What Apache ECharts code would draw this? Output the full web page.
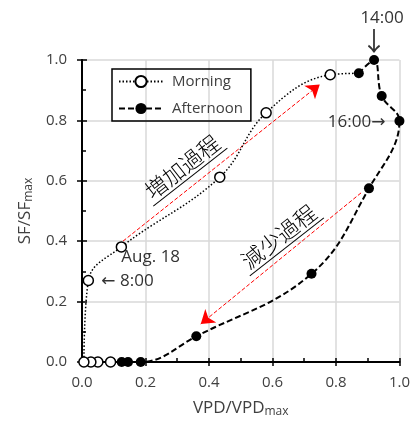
<!DOCTYPE html>
<html><head><meta charset="utf-8">
<script src="https://cdn.jsdelivr.net/npm/echarts@6/dist/echarts.min.js"></script>
<style>html,body{margin:0;padding:0;background:#fff}#c{width:413px;height:425px}</style>
</head><body><div id="c"></div>
<script>
// ---- data ----
const xTickLabels = ['0.0','0.2','0.4','0.6','0.8','1.0'];
const yTickLabels = ['0.0','0.2','0.4','0.6','0.8','1.0'];
const morningX = [0.09, 0.05, 0.028, 0.006, 0.02, 0.124, 0.434, 0.58, 0.782, 0.872];
const morningY = [0, 0, 0, 0, 0.27, 0.381, 0.612, 0.825, 0.951, 0.956];
const afternoonX = [0.872, 0.92, 0.944, 1.0, 0.904, 0.723, 0.36, 0.185, 0.145, 0.125];
const afternoonY = [0.956, 1.0, 0.881, 0.798, 0.575, 0.292, 0.085, 0, 0, 0];
const arrowIncrease = [[0.129, 0.40], [0.749, 0.919]];
const arrowDecrease = [[0.879, 0.56], [0.374, 0.126]];
const seriesNames = ['Morning', 'Afternoon'];
const processLabels = ['増加過程', '減少過程'];
const processCenters = [[0.316, 0.646], [0.62, 0.415]];
const timeLabels = ['14:00', '↓', '16:00→', 'Aug. 18', '← 8:00'];

const FONT = '"Open Sans", "DejaVu Sans", sans-serif';
const TXT = '#404040';
const chart = echarts.init(document.getElementById('c'), null, {renderer: 'canvas'});

const morningData = morningX.map((x, i) => {
  const d = {value: [x, morningY[i]]};
  if (i === morningX.length - 1) d.symbol = 'none';
  return d;
});
const afternoonData = afternoonX.map((x, i) => [x, afternoonY[i]]);

const baseAxis = {type: 'value', min: 0, max: 1, interval: 0.2};
const option = {
  animation: false,
  backgroundColor: '#fff',
  grid: {left: 82, top: 60, width: 320, height: 302, containLabel: false},
  legend: {
    orient: 'vertical', left: 112, top: 69,
    data: seriesNames,
    borderColor: '#000', borderWidth: 1.5, borderRadius: 0,
    padding: [5, 8, 5, 6], itemGap: 12, itemWidth: 44, itemHeight: 14,
    textStyle: {fontFamily: FONT, fontSize: 15, color: TXT, padding: [0, 0, 0, 4]}
  },
  xAxis: [
    Object.assign({}, baseAxis, {
      position: 'bottom',
      axisLine: {show: true, onZero: false, lineStyle: {color: '#000', width: 2}},
      axisTick: {show: true, inside: true, length: 4, lineStyle: {color: '#000', width: 1.5}},
      minorTick: {show: true, splitNumber: 2, length: 4, lineStyle: {color: '#000', width: 1.5}},
      splitLine: {show: true, lineStyle: {color: '#d9d9d9', width: 1.5}},
      axisLabel: {margin: 13, fontFamily: FONT, fontSize: 15, color: TXT,
        formatter: (v) => xTickLabels[Math.round(v / 0.2)]},
      name: '{a|VPD/VPD}{b|max}', nameLocation: 'middle', nameGap: 36,
      nameTextStyle: {fontFamily: FONT, color: TXT, rich: {
        a: {fontFamily: FONT, fontSize: 17, color: TXT, lineHeight: 20},
        b: {fontFamily: FONT, fontSize: 12, color: TXT, lineHeight: 6, verticalAlign: 'bottom'}
      }}
    }),
    Object.assign({}, baseAxis, {
      position: 'bottom',
      axisLine: {show: false},
      axisTick: {show: true, inside: false, length: 4, lineStyle: {color: '#000', width: 1.5}},
      splitLine: {show: false}, axisLabel: {show: false}
    }),
    Object.assign({}, baseAxis, {
      position: 'top',
      axisLine: {show: true, lineStyle: {color: '#000', width: 1.5}},
      axisTick: {show: false}, splitLine: {show: false}, axisLabel: {show: false}
    })
  ],
  yAxis: [
    Object.assign({}, baseAxis, {
      position: 'left',
      axisLine: {show: true, onZero: false, lineStyle: {color: '#000', width: 2}},
      axisTick: {show: true, inside: true, length: 5, lineStyle: {color: '#000', width: 1.5}},
      minorTick: {show: true, splitNumber: 2, length: 4, lineStyle: {color: '#000', width: 1.5}},
      splitLine: {show: true, lineStyle: {color: '#d9d9d9', width: 1.5}},
      axisLabel: {margin: 15, fontFamily: FONT, fontSize: 15, color: TXT,
        formatter: (v) => yTickLabels[Math.round(v / 0.2)]},
      name: '{a|SF/SF}{b|max}', nameLocation: 'middle', nameGap: 45,
      nameTextStyle: {fontFamily: FONT, color: TXT, padding: [0, 0, 0, 0], rich: {
        a: {fontFamily: FONT, fontSize: 17, color: TXT, lineHeight: 20},
        b: {fontFamily: FONT, fontSize: 12, color: TXT, lineHeight: 6, verticalAlign: 'bottom'}
      }}
    }),
    Object.assign({}, baseAxis, {
      position: 'left',
      axisLine: {show: false},
      axisTick: {show: true, inside: false, length: 5, lineStyle: {color: '#000', width: 1.5}},
      splitLine: {show: false}, axisLabel: {show: false}
    }),
    Object.assign({}, baseAxis, {
      position: 'right',
      axisLine: {show: true, lineStyle: {color: '#000', width: 1.5}},
      axisTick: {show: false}, splitLine: {show: false}, axisLabel: {show: false}
    })
  ],
  series: [
    {
      type: 'lines', coordinateSystem: 'cartesian2d', xAxisIndex: 0, yAxisIndex: 0,
      silent: true, z: 3,
      symbol: ['none', 'arrow'], symbolSize: 13,
      lineStyle: {color: '#ff0000', width: 1, type: [4, 2], opacity: 1, curveness: 0},
      data: [{coords: arrowIncrease}, {coords: arrowDecrease}]
    },
    {
      name: seriesNames[0], type: 'line', xAxisIndex: 0, yAxisIndex: 0, z: 4,
      smooth: 0.4, data: morningData,
      symbol: 'circle', symbolSize: 10, showAllSymbol: true,
      itemStyle: {color: '#fff', borderColor: '#000', borderWidth: 1.5},
      lineStyle: {color: '#000', width: 1.5, type: [1.5, 2]}
    },
    {
      name: seriesNames[1], type: 'line', xAxisIndex: 0, yAxisIndex: 0, z: 5,
      smooth: 0.4, data: afternoonData,
      symbol: 'circle', symbolSize: 10, showAllSymbol: true,
      itemStyle: {color: '#000', borderColor: '#000', borderWidth: 0},
      lineStyle: {color: '#000', width: 2, type: [6, 3]}
    }
  ]
};
chart.setOption(option);

// ---- annotations positioned from data coordinates ----
const px = (p) => chart.convertToPixel({gridIndex: 0}, p);
const p14 = px([afternoonX[1], afternoonY[1]]);
const p16 = px([afternoonX[3], afternoonY[3]]);
const pAug = px([morningX[5], morningY[5]]);
const p8 = px([morningX[4], morningY[4]]);
const annStyle = (extra) => Object.assign({fontFamily: FONT, fontSize: 17, fill: '#333'}, extra);
const graphics = [
  {type: 'text', x: p14[0] + 8, y: p14[1] - 42, style: annStyle({text: timeLabels[0], align: 'center', verticalAlign: 'middle'})},
  {type: 'text', x: p14[0], y: p14[1] - 19, style: annStyle({text: timeLabels[1], align: 'center', verticalAlign: 'middle', fontSize: 26, fontFamily: '"Noto Sans CJK JP", "DejaVu Sans", sans-serif'})},
  {type: 'text', x: p16[0] - 14, y: p16[1] + 1, style: annStyle({text: timeLabels[2], align: 'right', verticalAlign: 'middle'})},
  {type: 'text', x: pAug[0], y: pAug[1] + 10, style: annStyle({text: timeLabels[3], align: 'left', verticalAlign: 'middle'})},
  {type: 'text', x: p8[0] + 13, y: p8[1] + 1, style: annStyle({text: timeLabels[4], align: 'left', verticalAlign: 'middle'})}
];
processLabels.forEach((t, i) => {
  const c = px(processCenters[i]);
  graphics.push({
    type: 'group', x: c[0], y: c[1], rotation: 38 * Math.PI / 180,
    children: [
      {type: 'text', x: 0, y: 0, style: {text: t, fontFamily: '"Noto Sans CJK JP", sans-serif', fontWeight: 300, fontSize: 22, fill: '#000', align: 'center', verticalAlign: 'middle'}},
      {type: 'line', shape: {x1: -47, y1: 13, x2: 47, y2: 13}, style: {stroke: '#000', lineWidth: 1}}
    ]
  });
});
chart.setOption({graphic: graphics});
</script></body></html>
